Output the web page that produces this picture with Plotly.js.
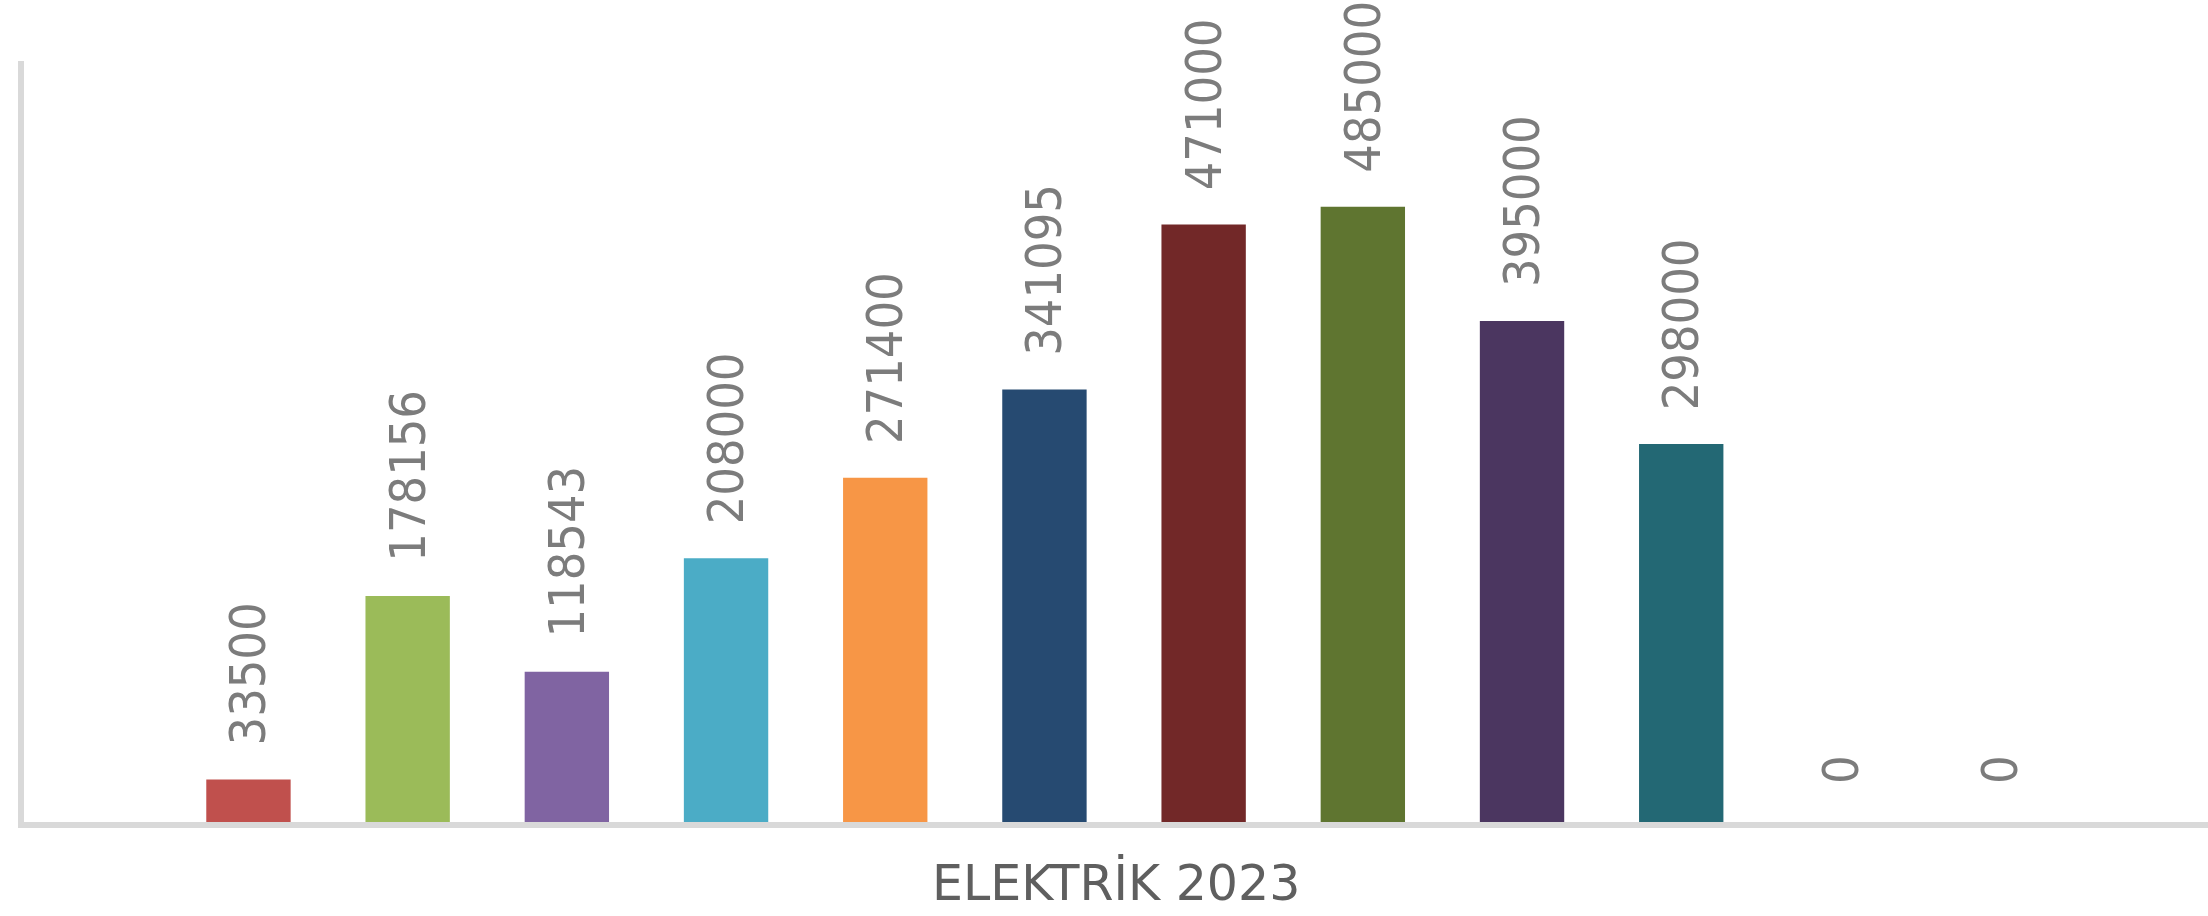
<!DOCTYPE html>
<html>
<head>
<meta charset="utf-8">
<script src="https://cdn.plot.ly/plotly-3.0.1.min.js"></script>
<style>
  html, body { margin: 0; padding: 0; background: #ffffff; }
  #chart { width: 2208px; height: 916px; }
</style>
</head>
<body>
<div id="chart"></div>
<script>
// Data
const categories = ["Ocak", "Şubat", "Mart", "Nisan", "Mayıs", "Haziran",
                    "Temmuz", "Ağustos", "Eylül", "Ekim", "Kasım", "Aralık"];
const values = [33500, 178156, 118543, 208000, 271400, 341095,
                471000, 485000, 395000, 298000, 0, 0];
const labels = ["33500", "178156", "118543", "208000", "271400", "341095",
                "471000", "485000", "395000", "298000", "0", "0"];
const barColors = ["#C0504D", "#9BBB59", "#8064A2", "#4BACC6", "#F79646", "#264A71",
                   "#722828", "#5F7530", "#4B3660", "#236874", "#2F4D71", "#73302E"];
const axisTitle = "ELEKTRİK 2023";

const labelFont = { family: "DejaVu Sans Condensed, DejaVu Sans, Liberation Sans, sans-serif", size: 50, color: "#7c7c7c" };

const annotations = categories.map((c, i) => ({
  x: c, y: values[i], xref: "x", yref: "y",
  text: labels[i], showarrow: false, textangle: -90,
  xanchor: "center", yanchor: "bottom", yshift: values[i] === 0 ? 36 : 32,
  font: labelFont
}));
annotations.push({
  x: 0.5, y: 0, xref: "paper", yref: "paper",
  text: axisTitle, showarrow: false,
  xanchor: "center", yanchor: "bottom", yshift: -92,
  font: { family: "DejaVu Sans, Liberation Sans, sans-serif", size: 49, color: "#5f5f5f" }
});

const trace = {
  type: "bar",
  x: categories,
  y: values,
  marker: { color: barColors, line: { width: 0 } },
  width: 0.53,
  hoverinfo: "x+y"
};

const layout = {
  width: 2208, height: 916,
  margin: { l: 24, r: 0, t: 61, b: 94, pad: 0 },
  paper_bgcolor: "#ffffff", plot_bgcolor: "#ffffff",
  showlegend: false,
  xaxis: {
    type: "category", range: [-1.41, 12.309],
    showline: true, linecolor: "#d9d9d9", linewidth: 6,
    showticklabels: false, ticks: "", showgrid: false, zeroline: false
  },
  yaxis: {
    range: [0, 600000],
    showline: true, linecolor: "#d9d9d9", linewidth: 6,
    showticklabels: false, ticks: "", showgrid: false, zeroline: false
  },
  annotations: annotations
};

Plotly.newPlot("chart", [trace], layout, { displayModeBar: false, staticPlot: true });
</script>
</body>
</html>
